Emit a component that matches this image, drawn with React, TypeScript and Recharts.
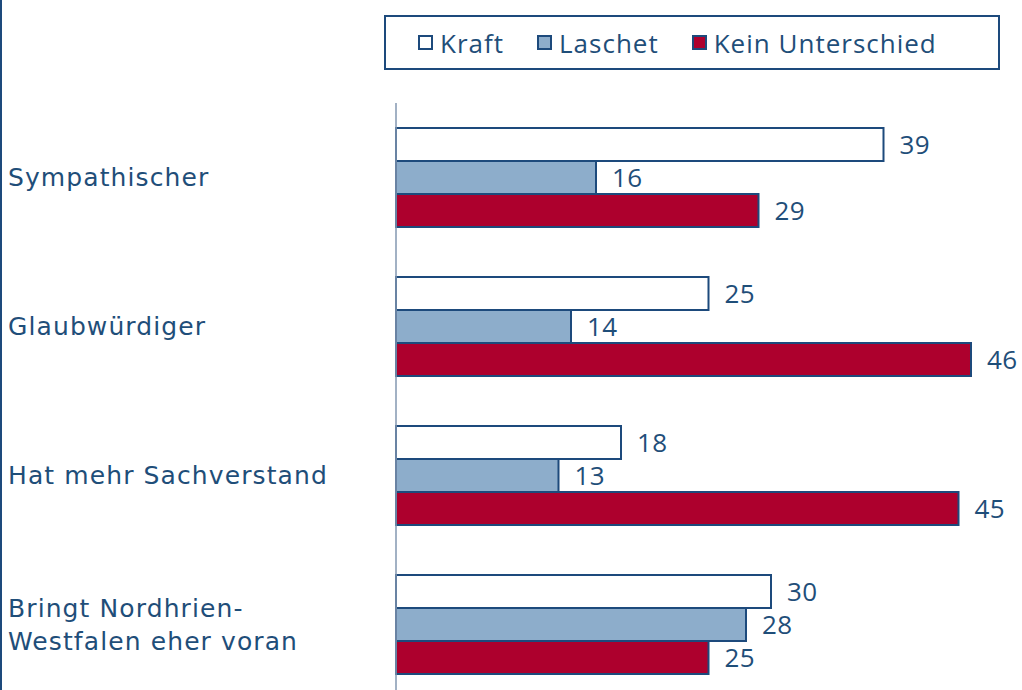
import { Bar, BarChart, LabelList, XAxis, YAxis } from "recharts";

const categories = [
  "Sympathischer",
  "Glaubwürdiger",
  "Hat mehr Sachverstand",
  "Bringt Nordhrien-\nWestfalen eher voran",
];
const kraft = [39, 25, 18, 30];
const laschet = [16, 14, 13, 28];
const keinUnterschied = [29, 46, 45, 25];

const NAVY = "#1d4a7c";
const TEXT = "#1f4e79";

const series = [
  { key: "kraft", name: "Kraft", fill: "#ffffff" },
  { key: "laschet", name: "Laschet", fill: "#8dadcb" },
  { key: "kein", name: "Kein Unterschied", fill: "#ad002d" },
];

const data = categories.map((label, i) => ({
  label,
  kraft: kraft[i],
  laschet: laschet[i],
  kein: keinUnterschied[i],
}));

function CategoryTick(props: any) {
  const { y, payload } = props;
  const lines = String(payload.value).split("\n");
  const lineHeight = 33;
  const startY = y - ((lines.length - 1) * lineHeight) / 2;
  return (
    <text
      x={8}
      y={startY}
      fill={TEXT}
      fontSize={25}
      letterSpacing={1.1}
      fontFamily="DejaVu Sans, Verdana, sans-serif"
      textAnchor="start"
    >
      {lines.map((line, i) => (
        <tspan key={i} x={8} y={startY + i * lineHeight} dominantBaseline="central">
          {line}
        </tspan>
      ))}
    </text>
  );
}

function LegendBox() {
  return (
    <div
      style={{
        position: "absolute",
        left: 384,
        top: 15,
        width: 580,
        height: 51,
        paddingLeft: 32,
        border: `2px solid ${NAVY}`,
        display: "flex",
        alignItems: "center",
        gap: 33,
        fontFamily: "Open Sans, sans-serif",
        fontSize: 26,
        letterSpacing: 1,
        color: TEXT,
        background: "#fff",
      }}
    >
      {series.map((s) => (
        <div key={s.key} style={{ display: "flex", alignItems: "center", gap: 7 }}>
          <span
            style={{
              display: "inline-block",
              width: 11,
              height: 11,
              border: `2px solid ${NAVY}`,
              background: s.fill,
            }}
          />
          <span>{s.name}</span>
        </div>
      ))}
    </div>
  );
}

export default function App() {
  return (
    <div
      style={{
        position: "fixed",
        top: 0,
        left: 0,
        width: 1022,
        height: 690,
        overflow: "hidden",
        background: "#fff",
      }}
    >
      <div
        style={{
          position: "absolute",
          left: 0,
          top: 0,
          width: 2,
          height: 690,
          background: NAVY,
        }}
      />
      <BarChart
        width={1022}
        height={699}
        data={data}
        layout="vertical"
        margin={{ top: 103, right: 1, bottom: 0, left: 0 }}
        barCategoryGap={25}
        barGap={0}
      >
        <XAxis type="number" domain={[0, 50]} hide />
        <YAxis
          type="category"
          dataKey="label"
          width={396}
          tickLine={false}
          axisLine={{ stroke: "#8397b0", strokeWidth: 1.5 }}
          tick={<CategoryTick />}
          interval={0}
        />
        {series.map((s) => (
          <Bar
            key={s.key}
            dataKey={s.key}
            name={s.name}
            fill={s.fill}
            stroke={NAVY}
            strokeWidth={2}
            isAnimationActive={false}
          >
            <LabelList
              dataKey={s.key}
              position="right"
              offset={16}
              fill={TEXT}
              fontSize={26}
              letterSpacing={0.5}
              fontFamily="Open Sans, sans-serif"
            />
          </Bar>
        ))}
      </BarChart>
      <LegendBox />
    </div>
  );
}
